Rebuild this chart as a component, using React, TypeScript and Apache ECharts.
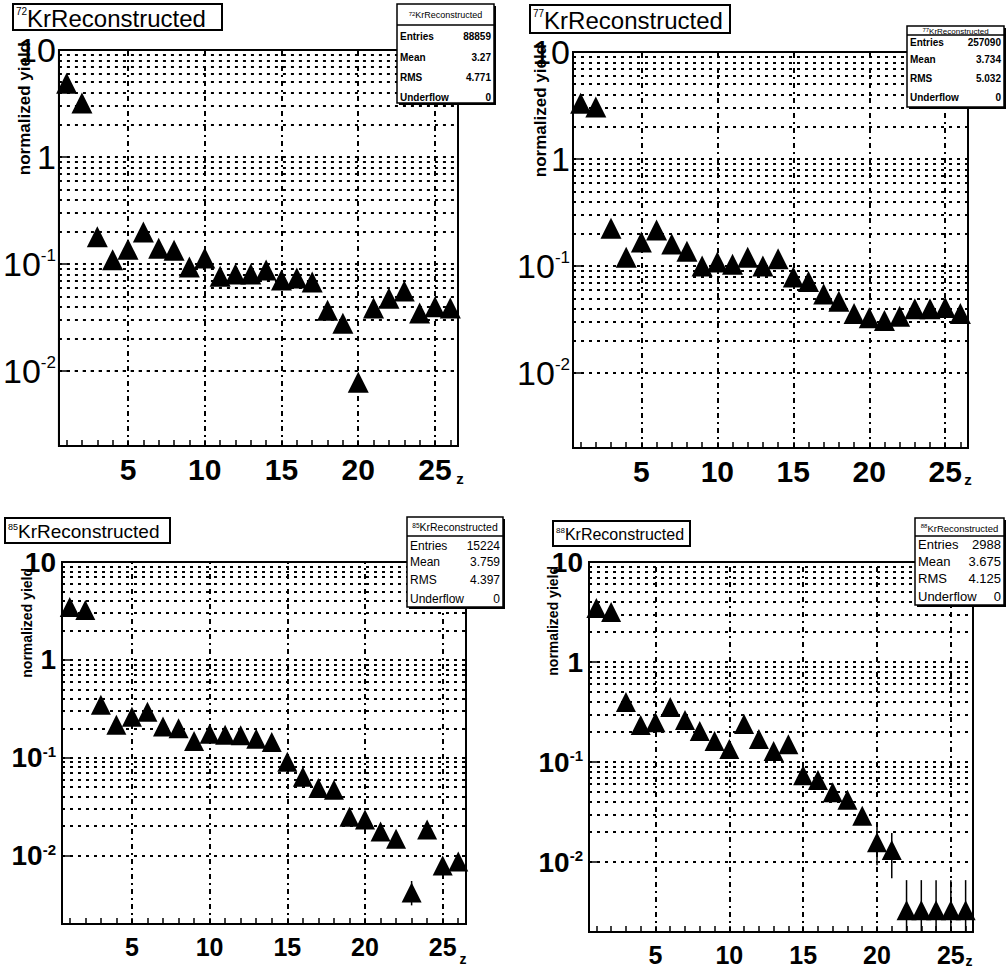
import React, { useEffect, useRef } from 'react';
import * as echarts from 'echarts';

// ---- data ----
const zBins = [1, 2, 3, 4, 5, 6, 7, 8, 9, 10, 11, 12, 13, 14, 15, 16, 17, 18, 19, 20, 21, 22, 23, 24, 25, 26];
const xTickLabels = [5, 10, 15, 20, 25];
const minorMantissas = [2, 3, 4, 5, 6, 7, 8, 9];
const minorDecades = [0.001, 0.01, 0.1, 1];

const yieldKr72 = [4.9, 3.2, 0.18, 0.11, 0.138, 0.199, 0.141, 0.135, 0.094, 0.114, 0.077, 0.081, 0.081, 0.088, 0.071, 0.074, 0.068, 0.037, 0.028, 0.0079, 0.039, 0.048, 0.056, 0.035, 0.04, 0.039];
const yieldKr77 = [3.33, 3.06, 0.226, 0.121, 0.168, 0.218, 0.161, 0.138, 0.1, 0.109, 0.104, 0.121, 0.1, 0.117, 0.079, 0.072, 0.055, 0.047, 0.036, 0.033, 0.031, 0.034, 0.04, 0.04, 0.041, 0.036];
const yieldKr85 = [3.47, 3.24, 0.348, 0.217, 0.262, 0.295, 0.208, 0.2, 0.148, 0.176, 0.172, 0.17, 0.156, 0.145, 0.091, 0.064, 0.049, 0.047, 0.025, 0.0234, 0.0176, 0.0149, 0.0042, 0.0185, 0.0079, 0.0087];
const yieldKr88 = [3.47, 3.16, 0.398, 0.234, 0.25, 0.355, 0.263, 0.204, 0.162, 0.135, 0.24, 0.17, 0.129, 0.151, 0.074, 0.066, 0.05, 0.042, 0.029, 0.0158, 0.0132, 0.0033, 0.0033, 0.0033, 0.0033, 0.0033];

const errZKr85 = [23];
const errLoKr85 = [0.0031];
const errHiKr85 = [0.0055];
const errZKr88 = [20, 21, 22, 23, 24, 25, 26];
const errLoKr88 = [0.0093, 0.0069, 0.001, 0.001, 0.001, 0.001, 0.001];
const errHiKr88 = [0.0224, 0.0195, 0.0066, 0.0066, 0.0066, 0.0066, 0.0066];

const statLabels = ['Entries', 'Mean', 'RMS', 'Underflow'];
const statsKr72 = ['88859', '3.27', '4.771', '0'];
const statsKr77 = ['257090', '3.734', '5.032', '0'];
const statsKr85 = ['15224', '3.759', '4.397', '0'];
const statsKr88 = ['2988', '3.675', '4.125', '0'];
const isotopes = ['72', '77', '85', '88'];
const histName = 'KrReconstructed';
const yTitle = 'normalized yield';
const xTitle = 'z';

// ---- layout ----
const FONT = "'Liberation Sans', Arial, Helvetica, sans-serif";

const panels = [
  {
    data: yieldKr72, err: null as any, stats: statsKr72, iso: isotopes[0],
    grid: { left: 58, top: 50, width: 400, height: 396 },
    sym: 21, xFont: 30, xMargin: 8, yBig: 34, ySup: 17, yWeight: 'normal', yMargin: 3,
    title: { x: 13, y: 4, w: 209, h: 26, main: 24, sup: 10 },
    ytitle: { x: 24, y: 42, size: 17 }, ztxt: { x: 460, y: 478, size: 15 },
    box: { x: 397, y: 4, w: 97, h: 99, headerY: 15, lineY: 25, rows: [36, 57, 77, 97], font: 10, hfont: 9, bold: true },
  },
  {
    data: yieldKr77, err: null as any, stats: statsKr77, iso: isotopes[1],
    grid: { left: 573, top: 52, width: 395, height: 396 },
    sym: 21, xFont: 30, xMargin: 8, yBig: 34, ySup: 17, yWeight: 'normal', yMargin: 3,
    title: { x: 530, y: 5, w: 200, h: 28, main: 24, sup: 10 },
    ytitle: { x: 540, y: 44, size: 17 }, ztxt: { x: 968, y: 479, size: 15 },
    box: { x: 907, y: 26, w: 97, h: 81, headerY: 31, lineY: 35, rows: [42, 59, 78, 97], font: 10, hfont: 8, bold: true },
  },
  {
    data: yieldKr85, err: { z: errZKr85, lo: errLoKr85, hi: errHiKr85 }, stats: statsKr85, iso: isotopes[2],
    grid: { left: 62, top: 562, width: 404, height: 362 },
    sym: 20, xFont: 25, xMargin: 10, yBig: 28, ySup: 15, yWeight: 'bold', yMargin: 6,
    title: { x: 5, y: 518, w: 165, h: 25, main: 19, sup: 9 },
    ytitle: { x: 27, y: 568, size: 14 }, ztxt: { x: 463, y: 959, size: 14 },
    box: { x: 407, y: 517, w: 96, h: 90, headerY: 527, lineY: 536, rows: [546, 562, 580, 599], font: 12, hfont: 10.5, bold: false },
  },
  {
    data: yieldKr88, err: { z: errZKr88, lo: errLoKr88, hi: errHiKr88 }, stats: statsKr88, iso: isotopes[3],
    grid: { left: 589, top: 562, width: 384, height: 370 },
    sym: 20, xFont: 25, xMargin: 10, yBig: 28, ySup: 15, yWeight: 'bold', yMargin: 6,
    title: { x: 553, y: 521, w: 137, h: 25, main: 16, sup: 8 },
    ytitle: { x: 553, y: 566, size: 14 }, ztxt: { x: 969, y: 961, size: 14 },
    box: { x: 915, y: 518, w: 89, h: 87, headerY: 528, lineY: 536, rows: [544, 561, 578, 596], font: 13, hfont: 9.5, bold: false },
  },
];

const dotted = { color: '#000', width: 2, type: [3, 5] as any };
const dashDot = { color: '#000', width: 2, type: [5, 4, 2, 4] as any };

function isDecade(v: number) {
  const l = Math.log10(v);
  return Math.abs(l - Math.round(l)) < 1e-6;
}

function buildOption() {
  const grids: any[] = [];
  const xAxes: any[] = [];
  const yAxes: any[] = [];
  const series: any[] = [];
  const graphic: any[] = [];

  const minorValues: number[] = [];
  minorDecades.forEach((d) => minorMantissas.forEach((m) => minorValues.push(+(m * d).toPrecision(3))));

  panels.forEach((p, i) => {
    grids.push({ ...p.grid, show: true, borderColor: '#000', borderWidth: 2, backgroundColor: 'transparent', containLabel: false });
    xAxes.push({
      gridIndex: i, type: 'value', min: 0.5, max: 26.5,
      axisLine: { show: true, onZero: false, lineStyle: { color: '#000', width: 2 } },
      axisTick: { show: true, inside: true, length: 6, customValues: zBins, lineStyle: { color: '#000', width: 1.5 } },
      axisLabel: {
        show: true, customValues: xTickLabels, margin: p.xMargin, color: '#000',
        fontSize: p.xFont, fontWeight: 'bold', fontFamily: FONT,
      },
      splitLine: { show: false },
    });
    yAxes.push({
      gridIndex: i, type: 'log', logBase: 10, min: 0.002, max: 10,
      axisLine: { show: true, lineStyle: { color: '#000', width: 2 } },
      axisTick: { show: true, inside: true, length: 10, lineStyle: { color: '#000', width: 1.5 } },
      axisLabel: {
        show: true, margin: p.yMargin, color: '#000', showMinLabel: true, showMaxLabel: true,
        formatter: (v: number) => {
          if (!isDecade(v)) return '';
          const e = Math.round(Math.log10(v));
          if (e === 1) return '{b|10}';
          if (e === 0) return '{b|1}';
          return '{b|10}{s|' + e + '}';
        },
        rich: {
          b: { fontSize: p.yBig, fontFamily: FONT, fontWeight: p.yWeight, color: '#000', lineHeight: p.yBig },
          s: { fontSize: p.ySup, fontFamily: FONT, fontWeight: p.yWeight, color: '#000', verticalAlign: 'top', lineHeight: p.yBig },
        },
      },
      splitLine: { show: true, lineStyle: dotted },
    });

    const mlData: any[] = [];
    minorValues.forEach((v) => mlData.push({ yAxis: v, lineStyle: dotted }));
    xTickLabels.forEach((v) => mlData.push({ xAxis: v, lineStyle: dashDot }));

    series.push({
      type: 'scatter', xAxisIndex: i, yAxisIndex: i,
      data: zBins.map((z, j) => [z, p.data[j]]),
      symbol: 'triangle', symbolSize: p.sym,
      itemStyle: { color: '#000', opacity: 1 },
      z: 5,
      markLine: {
        silent: true, symbol: ['none', 'none'], label: { show: false }, animation: false,
        emphasis: { disabled: true }, data: mlData, z: 1,
      },
    });

    if (p.err) {
      const e = p.err;
      series.push({
        type: 'custom', xAxisIndex: i, yAxisIndex: i, clip: true, z: 4,
        data: e.z.map((z: number, j: number) => [z, e.lo[j], e.hi[j]]),
        renderItem: (params: any, api: any) => {
          const a = api.coord([api.value(0), api.value(1)]);
          const b = api.coord([api.value(0), api.value(2)]);
          return { type: 'line', shape: { x1: a[0], y1: a[1], x2: b[0], y2: b[1] }, style: { stroke: '#000', lineWidth: 1.5 } };
        },
      });
    }

    // title box
    const t = p.title;
    graphic.push({ type: 'rect', shape: { x: t.x, y: t.y, width: t.w, height: t.h }, style: { fill: '#fff', stroke: '#000', lineWidth: 2 }, z: 100 });
    graphic.push({
      type: 'text', x: t.x + 3, y: t.y + t.h / 2 + 1, z: 101,
      style: {
        text: '{s|' + p.iso + '}{m|' + histName + '}', verticalAlign: 'middle', align: 'left',
        rich: {
          s: { fontSize: t.sup, fontFamily: FONT, fill: '#000', verticalAlign: 'top', lineHeight: t.main },
          m: { fontSize: t.main, fontFamily: FONT, fill: '#000', lineHeight: t.main },
        },
      },
    });

    // y title
    graphic.push({
      type: 'text', x: p.ytitle.x, y: p.ytitle.y, rotation: Math.PI / 2, z: 50,
      style: { text: yTitle, fontSize: p.ytitle.size, fontWeight: 'bold', fontFamily: FONT, fill: '#000', align: 'right', verticalAlign: 'middle' },
    });
    // x title
    graphic.push({
      type: 'text', x: p.ztxt.x, y: p.ztxt.y, z: 50,
      style: { text: xTitle, fontSize: p.ztxt.size, fontWeight: 'bold', fontFamily: FONT, fill: '#000', align: 'center', verticalAlign: 'middle' },
    });

    // stats box
    const bx = p.box;
    graphic.push({ type: 'rect', shape: { x: bx.x + 2, y: bx.y + 2, width: bx.w, height: bx.h }, style: { fill: '#000' }, z: 100 });
    graphic.push({ type: 'rect', shape: { x: bx.x, y: bx.y, width: bx.w, height: bx.h }, style: { fill: '#fff', stroke: '#000', lineWidth: 1.5 }, z: 101 });
    graphic.push({ type: 'line', shape: { x1: bx.x, y1: bx.lineY, x2: bx.x + bx.w, y2: bx.lineY }, style: { stroke: '#000', lineWidth: 1.5 }, z: 102 });
    graphic.push({
      type: 'text', x: bx.x + bx.w / 2, y: bx.headerY, z: 102,
      style: {
        text: '{s|' + p.iso + '}{m|' + histName + '}', align: 'center', verticalAlign: 'middle',
        rich: {
          s: { fontSize: Math.max(6, bx.hfont - 4), fontFamily: FONT, fill: '#000', verticalAlign: 'top', lineHeight: bx.hfont },
          m: { fontSize: bx.hfont, fontFamily: FONT, fill: '#000', lineHeight: bx.hfont },
        },
      },
    });
    statLabels.forEach((lab, k) => {
      graphic.push({
        type: 'text', x: bx.x + 3, y: bx.rows[k], z: 102,
        style: { text: lab, fontSize: bx.font, fontWeight: bx.bold ? 'bold' : 'normal', fontFamily: FONT, fill: '#000', align: 'left', verticalAlign: 'middle' },
      });
      graphic.push({
        type: 'text', x: bx.x + bx.w - 3, y: bx.rows[k], z: 102,
        style: { text: p.stats[k], fontSize: bx.font, fontWeight: bx.bold ? 'bold' : 'normal', fontFamily: FONT, fill: '#000', align: 'right', verticalAlign: 'middle' },
      });
    });
  });

  return {
    animation: false,
    backgroundColor: '#fff',
    grid: grids,
    xAxis: xAxes,
    yAxis: yAxes,
    series,
    graphic,
  };
}

export default function App() {
  const ref = useRef<HTMLDivElement>(null);
  useEffect(() => {
    if (!ref.current) return;
    const chart = echarts.init(ref.current, undefined, { renderer: 'svg' });
    chart.setOption(buildOption() as any);
    return () => chart.dispose();
  }, []);
  return <div ref={ref} style={{ position: 'fixed', left: 0, top: 0, width: 1006, height: 971, background: '#fff' }} />;
}
